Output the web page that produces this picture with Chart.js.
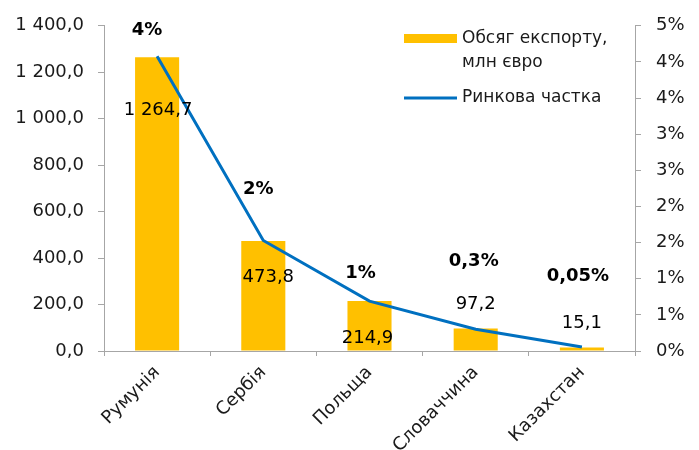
<!DOCTYPE html>
<html>
<head>
<meta charset="utf-8">
<script src="https://cdn.jsdelivr.net/npm/chart.js@4"></script>
<style>
  html, body { margin: 0; padding: 0; background: #fff; }
  #wrap { width: 699px; height: 450px; }
</style>
</head>
<body>
<div id="wrap"><canvas id="chart" width="699" height="450"></canvas></div>
<script>
const countries = ['Румунія', 'Сербія', 'Польща', 'Словаччина', 'Казахстан'];
const exportVolume = [1264.7, 473.8, 214.9, 97.2, 15.1];
const marketShare = [4.08, 1.53, 0.69, 0.30, 0.055];
const shareLabels = ['4%', '2%', '1%', '0,3%', '0,05%'];
const seriesNames = [['Обсяг експорту,', 'млн євро'], 'Ринкова частка'];

const FONT = '"DejaVu Sans", sans-serif';
const TEXT = '#1a1a1a';
const AXIS = '#a6a6a6';

// label nudges (px), like the hand-placed labels of the original
const barOff = [[1, 53], [5, 36], [-2, 37], [0, -24], [0, -24]];
const shareOff = [[-10, -26], [-5, -51], [-9, -28], [-2, -68], [-4, -71]];

function fmt(v) {
    const s = v.toFixed(1).split('.');
    return s[0].replace(/\B(?=(\d{3})+(?!\d))/g, ' ') + ',' + s[1];
}

const labelPlugin = {
    id: 'labels',
    afterDatasetsDraw(chart) {
        const ctx = chart.ctx;
        const bars = chart.getDatasetMeta(0).data;
        const pts = chart.getDatasetMeta(1).data;
        ctx.save();
        ctx.textAlign = 'center';
        ctx.textBaseline = 'middle';
        ctx.fillStyle = '#000';
        ctx.font = '18px ' + FONT;
        bars.forEach((b, i) => ctx.fillText(fmt(exportVolume[i]), b.x + barOff[i][0], b.y + barOff[i][1]));
        ctx.font = 'bold 18px ' + FONT;
        pts.forEach((p, i) => ctx.fillText(shareLabels[i], p.x + shareOff[i][0], p.y + shareOff[i][1]));

        // legend
        const ds = chart.data.datasets;
        ctx.textAlign = 'left';
        ctx.fillStyle = ds[0].backgroundColor;
        ctx.fillRect(404, 34, 53, 9);
        ctx.strokeStyle = ds[1].borderColor;
        ctx.lineWidth = 3;
        ctx.beginPath(); ctx.moveTo(404, 98); ctx.lineTo(457, 98); ctx.stroke();
        ctx.fillStyle = TEXT;
        ctx.font = '17px ' + FONT;
        ds[0].label.forEach((t, k) => ctx.fillText(t, 462, 39 + k * 24));
        ctx.fillText(ds[1].label, 462, 98);
        ctx.restore();
    }
};

new Chart(document.getElementById('chart'), {
    type: 'bar',
    data: {
        labels: countries,
        datasets: [{
            label: seriesNames[0],
            data: exportVolume,
            backgroundColor: '#FFC000',
            categoryPercentage: 1,
            barPercentage: 0.415,
            yAxisID: 'y',
            order: 1
        }, {
            type: 'line',
            label: seriesNames[1],
            data: marketShare,
            borderColor: '#0070C0',
            backgroundColor: '#0070C0',
            borderWidth: 3,
            pointRadius: 0,
            tension: 0,
            yAxisID: 'y1',
            order: 0
        }]
    },
    options: {
        responsive: false,
        animation: false,
        layout: { padding: { top: 24, left: 0, right: 0, bottom: 0 } },
        plugins: { legend: { display: false }, tooltip: { enabled: false } },
        scales: {
            x: {
                afterFit: s => { s.height = 99; },
                border: { color: AXIS },
                grid: { drawOnChartArea: false, drawTicks: true, tickLength: 5, color: AXIS, offset: true },
                ticks: { color: TEXT, font: { family: FONT, size: 18 }, minRotation: 45, maxRotation: 45, padding: 6 }
            },
            y: {
                position: 'left',
                min: 0, max: 1400,
                afterFit: s => { s.width = 104; },
                border: { color: AXIS },
                grid: { drawOnChartArea: false, drawTicks: true, tickLength: 6, color: AXIS },
                ticks: { stepSize: 200, color: TEXT, font: { family: FONT, size: 18 }, padding: 14, callback: v => fmt(v) }
            },
            y1: {
                position: 'right',
                min: 0, max: 4.5,
                afterFit: s => { s.width = 64; },
                border: { color: AXIS },
                grid: { drawOnChartArea: false, drawTicks: true, tickLength: 6, color: AXIS },
                ticks: { stepSize: 0.5, color: TEXT, font: { family: FONT, size: 18 }, padding: 15, callback: v => Math.round(v) + '%' }
            }
        }
    },
    plugins: [labelPlugin]
});
</script>
</body>
</html>
